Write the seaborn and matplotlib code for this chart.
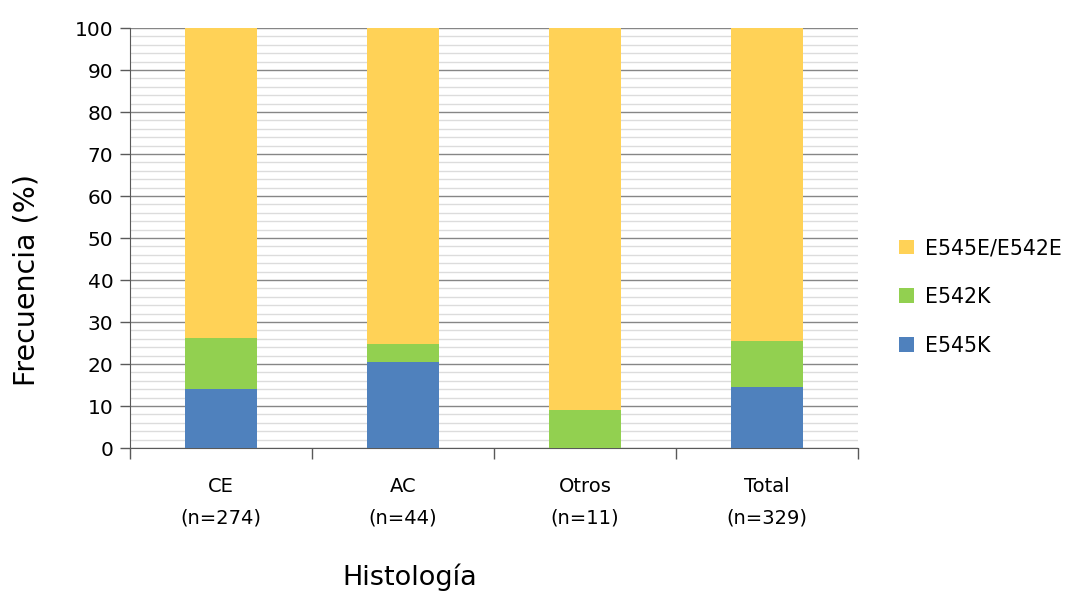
import matplotlib
matplotlib.use("Agg")
import matplotlib.pyplot as plt
import seaborn as sns
import pandas as pd
import numpy as np
from matplotlib.ticker import MultipleLocator, FixedLocator
from matplotlib.patches import Patch

categories = ["CE\n(n=274)", "AC\n(n=44)", "Otros\n(n=11)", "Total\n(n=329)"]
e545k = [14.0, 20.5, 0.0, 14.5]
e542k = [12.2, 4.3, 9.1, 11.0]
e545e = [73.8, 75.2, 90.9, 74.5]
series_names = ["E545E/E542E", "E542K", "E545K"]
colors = {"E545E/E542E": "#FFD257", "E542K": "#92D050", "E545K": "#4F81BD"}

sns.set_style("white")
plt.rcParams["font.family"] = ["DejaVu Sans"]
plt.rcParams["text.color"] = "black"

fig = plt.figure(figsize=(10.66, 5.91), dpi=100)
ax = fig.add_axes([130/1066, 1-448/591, (858-130)/1066, (448-28)/591])

df = pd.DataFrame({"cat": categories,
                   "blue": e545k,
                   "green": np.array(e545k) + np.array(e542k),
                   "yellow": np.array(e545k) + np.array(e542k) + np.array(e545e)})

for col, name in [("yellow", "E545E/E542E"), ("green", "E542K"), ("blue", "E545K")]:
    sns.barplot(data=df, x="cat", y=col, color=colors[name], width=0.4,
                saturation=1, ax=ax, zorder=3, edgecolor="none", linewidth=0)

ax.set_xlim(-0.5, 3.5)
ax.set_ylim(0, 100)
ax.yaxis.set_major_locator(MultipleLocator(10))
ax.yaxis.set_minor_locator(MultipleLocator(2))
ax.grid(which="major", axis="y", color="#868686", linewidth=1.0, zorder=0)
ax.grid(which="minor", axis="y", color="#dcdcdc", linewidth=1.0, zorder=0)
ax.set_axisbelow(True)

for s in ["top", "right"]:
    ax.spines[s].set_visible(False)
ax.spines["left"].set_color("#595959")
ax.spines["bottom"].set_color("#595959")

ax.tick_params(axis="y", which="major", length=7, width=1, color="#595959",
               direction="out", labelsize=14.5, pad=5, left=True, labelcolor="black")
ax.tick_params(axis="y", which="minor", length=0)
ax.set_yticks(np.arange(0, 101, 10))

ax.set_xticks(range(4))
ax.set_xticklabels(categories, fontsize=14, linespacing=1.8, color="black")
ax.tick_params(axis="x", which="major", length=0, pad=21)
ax.xaxis.set_minor_locator(FixedLocator([-0.5, 0.5, 1.5, 2.5, 3.5]))
ax.tick_params(axis="x", which="minor", length=8, width=1, color="#595959",
               direction="out", bottom=True)

ax.set_xlabel("")
ax.set_ylabel("")
fig.text(27/1066, 1-280/591, "Frecuencia (%)", fontsize=20.5, rotation=90,
         ha="center", va="center", color="black")
fig.text(410/1066, 1-577/591, "Histología", fontsize=19.5, ha="center",
         va="center", color="black")

handles = [Patch(facecolor=colors[n], edgecolor="none") for n in series_names]
leg = fig.legend(handles, series_names, loc="center left",
                 bbox_to_anchor=(899/1066, 1-297/591), frameon=False,
                 prop={"size": 14.8},
                 handlelength=0.72, handleheight=0.72, handletextpad=0.55,
                 labelspacing=1.4, borderpad=0, borderaxespad=0)

fig.savefig("out.png", dpi=100)
